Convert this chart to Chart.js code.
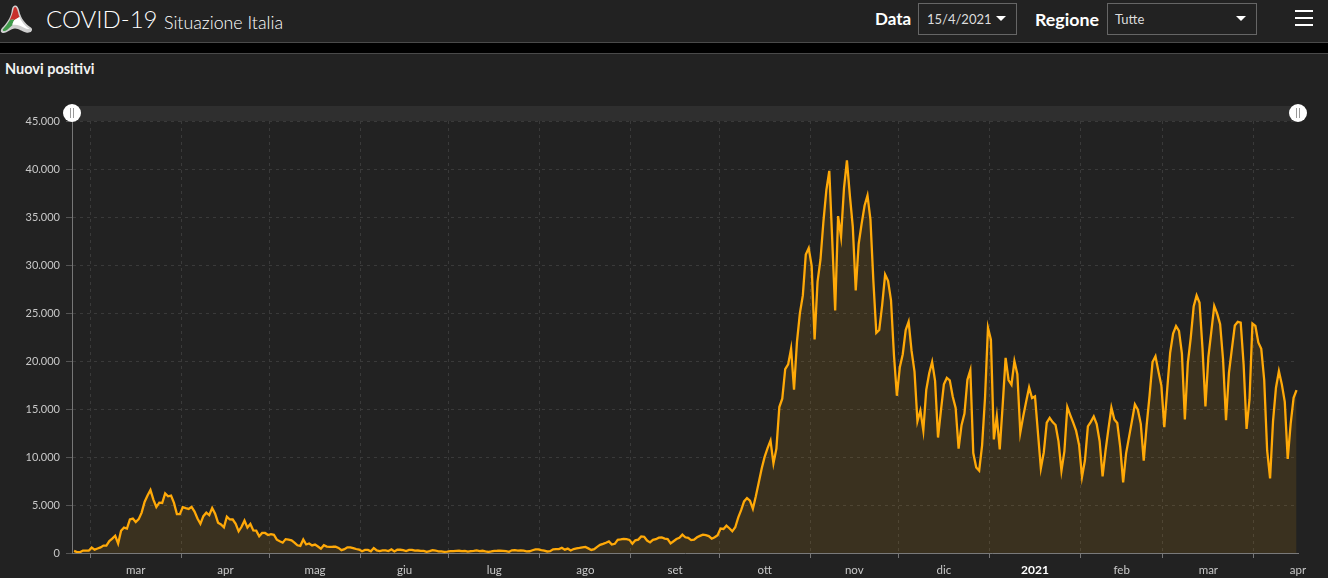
<!DOCTYPE html>
<html lang="it"><head><meta charset="utf-8"><title>COVID-19 Situazione Italia</title>
<script src="https://cdn.jsdelivr.net/npm/chart.js@4"></script>
<style>
html,body{margin:0;padding:0;width:1328px;height:578px;overflow:hidden;background:#222;color:#fff;font-family:Lato,"Open Sans",sans-serif}
.abs{position:absolute;white-space:nowrap}
#band{left:0;top:42px;width:1328px;height:10px;background:#000;border-top:1px solid #4a4a4a;border-bottom:1px solid #4a4a4a}
.sel{box-sizing:border-box;border:1px solid #666;height:32px;top:3px;font-size:13px;color:#ddd;line-height:30px}
.caret{position:absolute;width:0;height:0;border-left:5.5px solid transparent;border-right:5.5px solid transparent;border-top:5.5px solid #fff;top:12px}
.burger{left:1295px;width:18px;height:2px;background:#fff}
canvas{position:absolute;left:0;top:54px}
</style></head><body>
<svg class="abs" style="left:0;top:4px" width="34" height="32" viewBox="0 0 34 32">
<path d="M15 1.500 C18.500 1 19 7 20.500 11 C22 16 27 21 31.500 24 C33.500 27 30 29.500 26 28.500 C22 27.500 19 24.500 15 24.500 C10.500 24.500 7.500 29 3.500 29 C0.500 29 0 26.500 2 24 C6 20 10.500 14 11.500 8 C12 4.500 12.500 1.800 15 1.500Z" fill="#cfcfcf"/>
<path d="M15.500 3 C17.500 4 18 9 19.500 13 L14.500 16 C13 15 11 15.500 9.500 16.500 C11.500 12.500 13 8 13.500 5 C14 3.500 14.500 3 15.500 3Z" fill="#c8302c"/>
<path d="M9.500 16.500 C7.500 20 5 23 2.800 25.500 C2.500 27.500 5 27.500 7 26 L12.500 21 C12.500 19 13.500 17 14.500 16 C13 15 11 15.500 9.500 16.500Z" fill="#3f9a4a"/>
<path d="M12.500 21 C12.500 19 13.500 17 14.500 16 L19.500 13 C21 17 25 22 29.500 25 C26 25.500 23 23 20 21.800 C17.500 21 14.500 20.500 12.500 21Z" fill="#fff"/>
</svg>
<div class="abs" style="left:46px;top:0;font-size:24px;font-weight:300;line-height:38px">COVID-19</div>
<div class="abs" style="left:164px;top:3px;font-size:17.8px;font-weight:300;line-height:38px;color:#fff">Situazione Italia</div>
<div class="abs" style="left:875px;top:7px;font-size:17px;font-weight:700;line-height:24px">Data</div>
<div class="abs sel" style="left:918px;width:99px;padding-left:8px">15/4/2021<span class="caret" style="left:77px"></span></div>
<div class="abs" style="left:1035px;top:7px;font-size:17.8px;font-weight:700;line-height:24px">Regione</div>
<div class="abs sel" style="left:1107px;width:150px;padding-left:7px">Tutte<span class="caret" style="left:128px"></span></div>
<div class="abs burger" style="top:10px"></div><div class="abs burger" style="top:17px"></div><div class="abs burger" style="top:24px"></div>
<div class="abs" id="band"></div>
<div class="abs" style="left:5px;top:60px;font-size:14.5px;font-weight:700;line-height:18px;color:#f2f2f2">Nuovi positivi</div>
<canvas id="c" width="1328" height="524"></canvas>
<script>
const startDate = Date.UTC(2020, 1, 24);
const feb20 = [221,93,78,250,238,240];
const mar20 = [561,347,466,587,769,778,1247,1492,1797,977,2313,2651,2547,3497,3590,3233,3526,4207,5322,5986,6557,5560,4789,5249,5210,6203,5909,5974,5217,4050,4053];
const apr20 = [4782,4668,4585,4805,4316,3599,3039,3836,4204,3951,4694,4092,3153,2972,2667,3786,3493,3491,3047,2256,2729,3370,2646,3021,2357,2324,1739,2091,2086,1872];
const mag20 = [1965,1900,1389,1221,1075,1444,1401,1327,1083,802,744,1402,888,992,789,875,675,451,813,665,642,652,669,531,300,397,584,593,516,416,355];
const giu20 = [178,318,321,177,518,270,197,280,283,202,379,163,346,338,301,210,329,333,251,262,224,218,122,190,296,259,175,174,126,142];
const lug20 = [187,201,223,235,192,208,138,193,229,276,188,234,169,114,162,230,233,249,219,190,129,282,306,252,275,255,170,181,289,386,379];
const ago20 = [295,239,159,190,384,401,402,552,347,463,259,412,481,523,574,629,479,320,403,642,845,947,1071,1210,878,953,1367,1409,1460,1444,1365];
const set20 = [978,1326,1397,1733,1695,1297,1108,1370,1434,1597,1616,1501,1458,1008,1229,1452,1585,1907,1638,1587,1350,1392,1640,1786,1912,1869,1766,1494,1648,1851];
const ott20 = [2548,2499,2844,2578,2257,2677,3678,4458,5372,5724,5456,4619,5901,7332,8804,10010,10925,11705,9338,10874,15199,16079,19143,19644,21273,17012,21994,24991,26831,31084,31758];
const nov20 = [29907,22253,28244,30548,34505,37809,39811,32616,25271,35098,32961,37978,40902,37255,33979,27352,32191,34283,36176,37242,34767,28337,22930,23232,25853,29003,28352,26323,20648,16377];
const dic20 = [19350,20709,23225,24099,21052,18887,13720,14842,12756,16999,18727,19903,17938,12030,14844,17572,18236,17992,16308,15104,10872,13318,14522,18040,19037,10407,8913,8585,11212,16202,23477];
const gen21 = [22211,11831,14245,10800,15378,20331,18020,17533,19978,18627,12532,14242,15774,17246,16146,16310,12545,8824,10497,13571,14078,13633,13331,11629,8562,10593,15204,14372,13574,12715,11252];
const feb21 = [7925,9660,13189,13659,14218,13442,11641,7970,10630,12956,15146,13908,13532,11068,7351,10386,12074,13762,15479,14931,13452,9630,13314,16424,19886,20499,18916,17455];
const mar21 = [13114,17083,20884,22865,23641,23146,20765,13902,19749,22409,25673,26824,26062,21315,15267,20396,23059,25735,24935,23832,20159,13846,18765,21267,23696,24076,23987,19611,12916,16017,23904];
const apr21 = [23649,21932,21261,18025,10680,7767,13708,17221,18938,17567,15746,9789,13447,16168,16974];
const monthNames = ['gen','feb','mar','apr','mag','giu','lug','ago','set','ott','nov','dic'];
const yTicks = [0,5000,10000,15000,20000,25000,30000,35000,40000,45000];

const nuoviPositivi = [].concat(feb20,mar20,apr20,mag20,giu20,lug20,ago20,set20,ott20,nov20,dic20,gen21,feb21,mar21,apr21);
const dayMs = 864e5;
// Every day is a cell on the axis: its point sits in the middle of the cell, as in the reference
const points = nuoviPositivi.map((y, i) => ({ x: i + 0.5, y }));
const totalDays = nuoviPositivi.length;

// Month boundaries (grid lines) and month centres (labels)
const gridTicks = [], labelTicks = new Map();
for (let y = 2020, m = 2; y < 2021 || m <= 3; m === 11 ? (y++, m = 0) : m++) {
  const start = (Date.UTC(y, m, 1) - startDate) / dayMs;
  const len = (Date.UTC(y, m + 1, 1) - Date.UTC(y, m, 1)) / dayMs;
  if (start < totalDays) gridTicks.push(start);
  labelTicks.set(start + len / 2, m === 0 ? String(y) : monthNames[m]);
}
const isGrid = v => gridTicks.includes(v);
const dot = n => String(n).replace(/\B(?=(\d{3})+$)/g, '.');

const navigator = {
  id: 'navigator',
  beforeDatasetsDraw(chart) {
    const g = chart.ctx, a = chart.chartArea;
    g.save();
    g.fillStyle = '#2f2f2f';
    g.fillRect(a.left, a.top - 15, a.right - a.left, 15);
    g.restore();
  },
  afterDraw(chart) {
    const g = chart.ctx, a = chart.chartArea, y = a.top - 8;
    g.save();
    [a.left, a.right].forEach(x => {
      g.fillStyle = '#fff';
      g.beginPath(); g.arc(x, y, 9, 0, Math.PI * 2); g.fill();
      g.strokeStyle = '#999'; g.lineWidth = 1;
      g.beginPath();
      g.moveTo(x - 1.5, y - 5); g.lineTo(x - 1.5, y + 5);
      g.moveTo(x + 1.5, y - 5); g.lineTo(x + 1.5, y + 5);
      g.stroke();
    });
    g.restore();
  }
};

new Chart(document.getElementById('c'), {
  type: 'line',
  plugins: [navigator],
  data: { datasets: [{
    label: 'Nuovi positivi', data: points,
    borderColor: '#ffa908', borderWidth: 2.3, pointRadius: 0, tension: 0,
    fill: 'origin', backgroundColor: 'rgba(255,169,8,0.11)'
  }]},
  options: {
    responsive: false, animation: false, devicePixelRatio: 1,
    layout: { padding: { top: 67, right: 30, left: 0, bottom: 0 } },
    plugins: { legend: { display: false }, tooltip: { enabled: false } },
    scales: {
      x: {
        type: 'linear', min: -0.2, max: totalDays,
        afterBuildTicks(ax) {
          ax.ticks = [...gridTicks, ...labelTicks.keys()]
            .filter(v => v >= 0 && v <= totalDays)
            .sort((a, b) => a - b)
            .map(value => ({ value }));
        },
        afterFit(ax) { ax.height = 25; },
        grid: {
          drawOnChartArea: true, drawTicks: true, tickLength: 5,
          color: c => (c.tick && isGrid(c.tick.value)) ? '#3a3a3a' : 'transparent',
          tickColor: c => (c.tick && isGrid(c.tick.value)) ? '#777' : 'transparent',
          tickBorderDash: [], lineWidth: 1
        },
        border: { display: true, color: '#7a7a7a', width: 1, dash: [3, 4] },
        ticks: {
          autoSkip: false, maxRotation: 0, minRotation: 0, padding: 5,
          align: 'center',
          color: c => (c.tick && c.tick.label === '2021') ? '#fff' : '#c8c8c8',
          font: c => (c.tick && c.tick.label === '2021')
            ? { family: 'Lato', size: 12, weight: '700' } : { family: 'Lato', size: 11.5 },
          callback: v => labelTicks.get(v) || ''
        }
      },
      y: {
        min: 0, max: 45000,
        afterFit(ax) { ax.width = 72; },
        afterBuildTicks(ax) { ax.ticks = yTicks.map(value => ({ value })); },
        grid: { color: '#3a3a3a', tickColor: '#555', tickLength: 6, lineWidth: 1, tickBorderDash: [] },
        border: { display: true, color: '#777', width: 1, dash: [3, 4] },
        ticks: { color: '#c8c8c8', padding: 6, font: { family: 'Lato', size: 11 }, callback: v => dot(v) }
      }
    }
  }
});
</script>
</body></html>
